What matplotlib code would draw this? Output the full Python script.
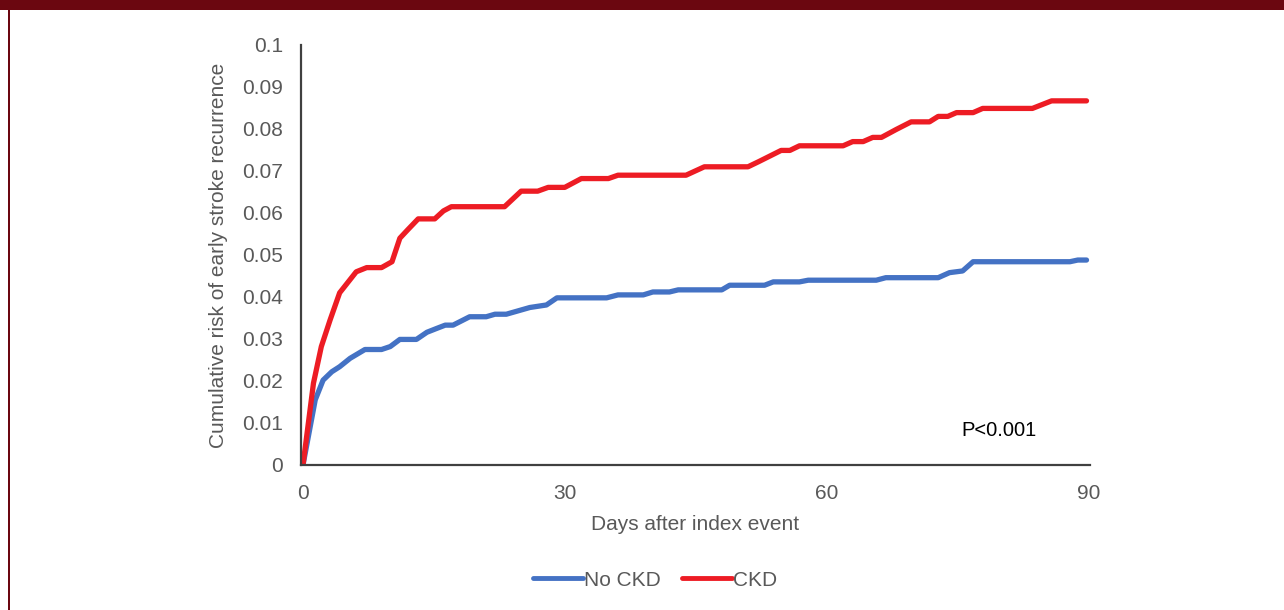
import matplotlib
matplotlib.use("Agg")
import matplotlib.pyplot as plt
from matplotlib.patches import Rectangle

plt.rcParams['font.family'] = ['Liberation Sans', 'DejaVu Sans']

# Cumulative risk of early stroke recurrence, by days after index event
ckd_days = [0, 1.2, 2.1, 3.1, 4.2, 6.1, 7.3, 9.0, 10.2, 11.1, 12.0, 13.2, 15.1, 16.1,
            17.0, 23.1, 25.0, 26.9, 28.1, 30.0, 31.9, 35.0, 36.1, 43.9, 46.0, 51.0,
            52.2, 54.8, 55.8, 56.9, 61.9, 63.0, 64.2, 65.3, 66.3, 68.0, 69.7, 71.8,
            72.8, 73.9, 74.9, 76.8, 77.9, 83.6, 85.8, 89.8]
ckd_risk = [0, 0.0195, 0.0282, 0.0345, 0.041, 0.046, 0.047, 0.047, 0.0484, 0.054, 0.056,
            0.0586, 0.0586, 0.0605, 0.0615, 0.0615, 0.0652, 0.0652, 0.0661, 0.0661,
            0.0682, 0.0682, 0.069, 0.069, 0.071, 0.071, 0.0722, 0.0749, 0.0749, 0.076,
            0.076, 0.077, 0.077, 0.078, 0.078, 0.0799, 0.0817, 0.0817, 0.083, 0.083,
            0.0839, 0.0839, 0.0849, 0.0849, 0.0867, 0.0867]

no_ckd_days = [0, 1.4, 2.3, 3.3, 4.2, 5.4, 7.1, 9.0, 10.0, 11.1, 13.0, 14.2, 15.3, 16.3,
               17.2, 19.1, 21.0, 22.0, 23.3, 26.0, 27.9, 29.1, 34.8, 36.1, 39.0, 40.1,
               42.0, 43.0, 48.0, 48.9, 52.9, 53.9, 56.9, 57.9, 65.7, 66.8, 72.8, 74.1,
               75.6, 76.8, 87.9, 88.8, 89.8]
no_ckd_risk = [0, 0.0155, 0.0202, 0.0222, 0.0234, 0.0254, 0.0275, 0.0275, 0.0282, 0.0299,
               0.0299, 0.0316, 0.0325, 0.0333, 0.0333, 0.0353, 0.0353, 0.0359, 0.0359,
               0.0375, 0.0381, 0.0398, 0.0398, 0.0405, 0.0405, 0.0412, 0.0412, 0.0417,
               0.0417, 0.0428, 0.0428, 0.0436, 0.0436, 0.044, 0.044, 0.0446, 0.0446,
               0.0458, 0.0462, 0.0484, 0.0484, 0.0488, 0.0488]

x_ticks = [0, 30, 60, 90]
y_ticks = [0, 0.01, 0.02, 0.03, 0.04, 0.05, 0.06, 0.07, 0.08, 0.09, 0.1]
y_tick_labels = ['0', '0.01', '0.02', '0.03', '0.04', '0.05', '0.06', '0.07', '0.08', '0.09', '0.1']

BLUE = '#4472C4'
RED = '#ED1C24'
TEXT = '#595959'
FRAME = '#6B0710'

W, H = 1284, 610
fig = plt.figure(figsize=(W / 100, H / 100), dpi=100)
fig.patch.set_facecolor('white')

# Page frame: top bar and left rule
fig.patches.append(Rectangle((0, 1 - 10 / H), 1, 10 / H, transform=fig.transFigure,
                             facecolor=FRAME, edgecolor='none', zorder=0))
fig.patches.append(Rectangle((8 / W, 0), 2 / W, 1, transform=fig.transFigure,
                             facecolor=FRAME, edgecolor='none', zorder=0))

ax = fig.add_axes([301 / W, 1 - 465 / H, (1090 - 301) / W, (465 - 45) / H])

line_kw = dict(lw=3.8, solid_joinstyle='round', solid_capstyle='round')
ax.plot(no_ckd_days, no_ckd_risk, color=BLUE, label='No CKD', **line_kw)
ax.plot(ckd_days, ckd_risk, color=RED, label='CKD', **line_kw)

ax.set_xlim(-0.23, 90.2)
ax.set_ylim(0, 0.1)
ax.set_xticks(x_ticks)
ax.set_xticklabels([str(t) for t in x_ticks])
ax.set_yticks(y_ticks)
ax.set_yticklabels(y_tick_labels)
ax.tick_params(axis='both', length=0, labelsize=15, labelcolor=TEXT)
ax.tick_params(axis='y', pad=13)
ax.tick_params(axis='x', pad=14)

for side in ('top', 'right'):
    ax.spines[side].set_visible(False)
for side in ('left', 'bottom'):
    ax.spines[side].set_color('#404040')
    ax.spines[side].set_linewidth(1.6)

ax.set_xlabel('Days after index event', fontsize=15, color=TEXT, labelpad=8)
ax.set_ylabel('Cumulative risk of early stroke recurrence', fontsize=15, color=TEXT)
ax.yaxis.set_label_coords(-(301 - 228) / (1090 - 301), 0.5)

ax.text(79.8, 0.0083, 'P<0.001', fontsize=14.5, color='black', ha='center', va='center')

leg = fig.legend(loc='center', bbox_to_anchor=(655 / W, 1 - 580 / H), ncol=2,
                 frameon=False, fontsize=15, handlelength=2.4, handletextpad=0.05,
                 columnspacing=1.0, labelcolor=TEXT)
for h in leg.get_lines():
    h.set_linewidth(3.5)

fig.savefig('out.png', dpi=100, facecolor='white')
